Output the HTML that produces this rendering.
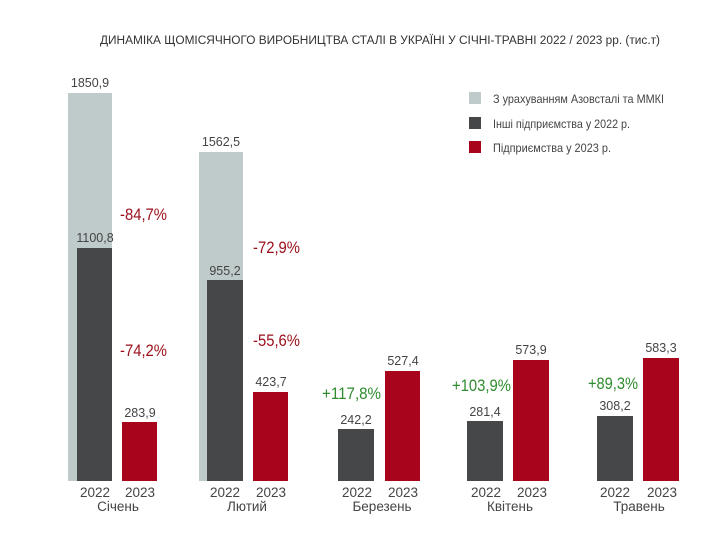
<!DOCTYPE html>
<html><head><meta charset="utf-8"><style>
body{margin:0;background:#fff}
svg{display:block;font-family:"Liberation Sans",sans-serif}
</style></head><body>
<svg width="720" height="540" viewBox="0 0 720 540">
<text x="100" y="44" font-size="11.5" fill="#333" textLength="560" lengthAdjust="spacingAndGlyphs">ДИНАМІКА ЩОМІСЯЧНОГО ВИРОБНИЦТВА СТАЛІ В УКРАЇНІ У СІЧНІ-ТРАВНІ 2022 / 2023 рр. (тис.т)</text>
<g fill="#bfcacb"><rect x="68" y="93" width="44" height="388"/><rect x="199" y="152" width="44" height="329"/></g>
<g fill="#464749"><rect x="77" y="248" width="35" height="233"/><rect x="207" y="280" width="36" height="201"/><rect x="338" y="429" width="36" height="52"/><rect x="467" y="421" width="36" height="60"/><rect x="597" y="416" width="36" height="65"/></g>
<g fill="#a8051c"><rect x="122" y="422" width="35" height="59"/><rect x="253" y="392" width="35" height="89"/><rect x="385" y="371" width="35" height="110"/><rect x="513" y="360" width="36" height="121"/><rect x="643" y="358" width="36" height="123"/></g>
<g font-size="12.5" fill="#444" text-anchor="middle">
<text x="90" y="87">1850,9</text><text x="221" y="146">1562,5</text>
<text x="95" y="242">1100,8</text><text x="225" y="275">955,2</text>
<text x="140" y="417">283,9</text><text x="271" y="386">423,7</text>
<text x="356" y="424">242,2</text><text x="403" y="365">527,4</text>
<text x="485" y="416">281,4</text><text x="531" y="354">573,9</text>
<text x="615" y="410">308,2</text><text x="661" y="352">583,3</text>
<g font-size="13.5"><text x="95" y="497">2022</text><text x="140" y="497">2023</text>
<text x="225" y="497">2022</text><text x="271" y="497">2023</text>
<text x="357" y="497">2022</text><text x="403" y="497">2023</text>
<text x="486" y="497">2022</text><text x="532" y="497">2023</text>
<text x="615" y="497">2022</text><text x="662" y="497">2023</text>
<text x="118" y="511">Січень</text><text x="247" y="511">Лютий</text><text x="382" y="511">Березень</text><text x="510" y="511">Квітень</text><text x="639" y="511">Травень</text></g>
</g>
<g font-size="16.5" fill="#9a0e1a">
<text x="120" y="220" textLength="47" lengthAdjust="spacingAndGlyphs">-84,7%</text><text x="120" y="356" textLength="47" lengthAdjust="spacingAndGlyphs">-74,2%</text>
<text x="253" y="253" textLength="47" lengthAdjust="spacingAndGlyphs">-72,9%</text><text x="253" y="346" textLength="47" lengthAdjust="spacingAndGlyphs">-55,6%</text>
</g>
<g font-size="16.5" fill="#2e8b2e">
<text x="322" y="399" textLength="59" lengthAdjust="spacingAndGlyphs">+117,8%</text><text x="452" y="391" textLength="59" lengthAdjust="spacingAndGlyphs">+103,9%</text><text x="588" y="389" textLength="50" lengthAdjust="spacingAndGlyphs">+89,3%</text>
</g>
<rect x="469" y="92" width="12" height="12" fill="#bfcacb"/>
<rect x="469" y="117" width="12" height="12" fill="#464749"/>
<rect x="469" y="141" width="12" height="12" fill="#a8051c"/>
<g font-size="12" fill="#444"><text x="493" y="103" textLength="171" lengthAdjust="spacingAndGlyphs">З урахуванням Азовсталі та ММКІ</text><text x="493" y="128" textLength="137" lengthAdjust="spacingAndGlyphs">Інші підприємства у 2022 р.</text><text x="493" y="152" textLength="118" lengthAdjust="spacingAndGlyphs">Підприємства у 2023 р.</text></g>
</svg>
</body></html>
